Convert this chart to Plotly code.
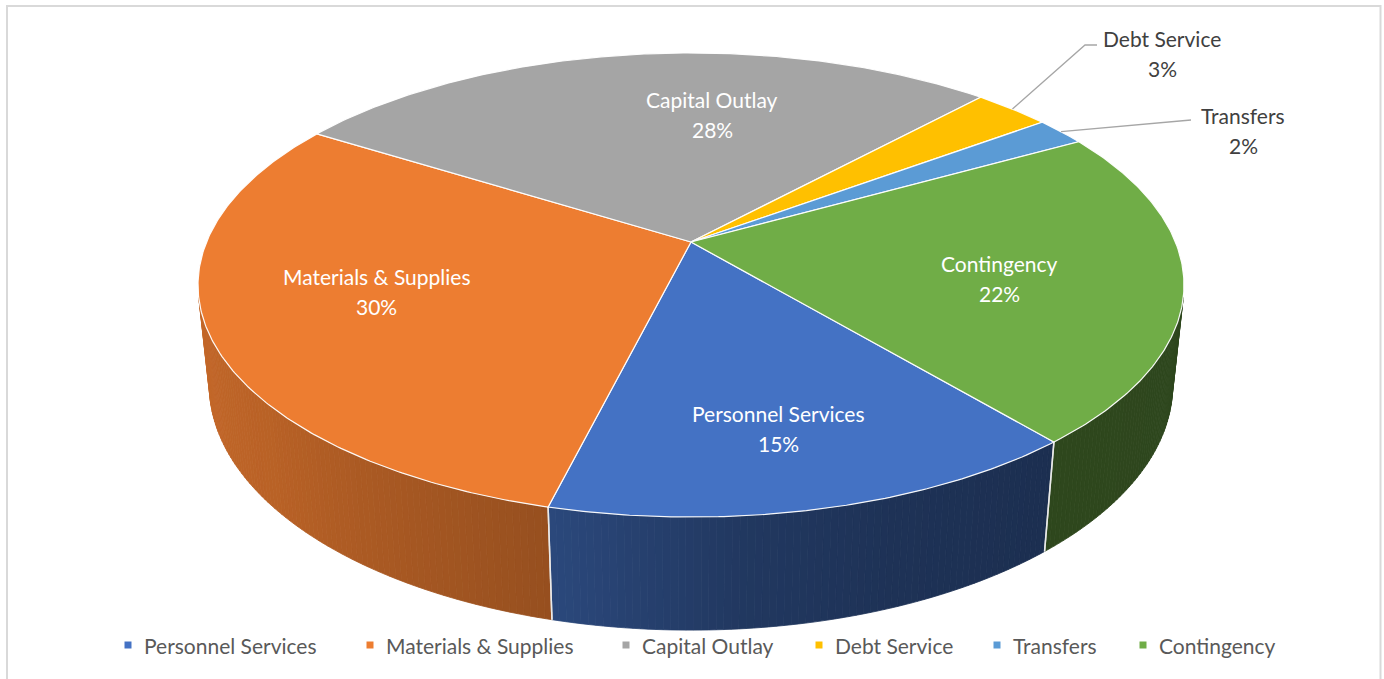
import numpy as np
import plotly.graph_objects as go

# ---- data -------------------------------------------------------------
categories = ["Personnel Services", "Materials & Supplies", "Capital Outlay",
              "Debt Service", "Transfers", "Contingency"]
shares = [15, 30, 28, 3, 2, 22]          # percent of total budget
pct_labels = ["15%", "30%", "28%", "3%", "2%", "22%"]

# ---- style ------------------------------------------------------------
slice_colors = ["#4472C4", "#ED7D31", "#A5A5A5", "#FFC000", "#5B9BD5", "#70AD47"]
FONT = "Lato"
FONT_SIZE = 21
W, H = 1384, 679

# camera for the tilted, perspective pie (unit-radius disc)
CX, CY = 691.0, 242.0
ELEV = np.radians(27.55)
DIST = 4.784
FOCAL = 2317.6
THICK = 0.235
START_DEG = 140.0
S, C = np.sin(ELEV), np.cos(ELEV)

# side-wall brightness as a function of the wall's compass angle
SHADE_ANG = [90, 140, 160, 175, 195, 230, 270]
SHADE_VAL = [0.40, 0.41, 0.44, 0.49, 0.64, 0.78, 0.85]

# inside label nudges (pixels) relative to the slice's mid-angle anchor
LABEL_NUDGE = {0: (11, 34), 1: (-23, -5), 2: (57, -4), 5: (7, 11)}
# outside labels: text centre, leader elbow, leader end
OUTSIDE = {3: dict(text=(1162, 53), elbow=(1085, 45), end=(1097, 45)),
           4: dict(text=(1243, 130), elbow=(1178, 121), end=(1191, 120))}
LEGEND_TEXT_X = [142, 384, 640, 833, 1011, 1157]
LEGEND_Y = 645


def project(phi_deg, r=1.0, y=0.0):
    phi = np.radians(phi_deg)
    X = r * np.sin(phi)
    Z = -r * np.cos(phi)
    d = DIST - y * S - Z * C
    px = CX + FOCAL * X / d
    py = CY - FOCAL * (y * C - Z * S) / d
    return px, py


def shade(hex_color, f):
    h = hex_color.lstrip("#")
    rgb = [int(h[i:i + 2], 16) for i in (0, 2, 4)]
    return "rgb({},{},{})".format(*[int(round(v * f)) for v in rgb])


total = float(sum(shares))
cum = np.concatenate([[0], np.cumsum(shares)]) / total * 360.0
starts = START_DEG + cum[:-1]
ends = START_DEG + cum[1:]

fig = go.Figure()

# ---- side walls (front half only) ----------------------------------------
vis_lo = np.degrees(np.arccos(-1.0 / (DIST * C)))
vis_hi = 360.0 - vis_lo
for i in range(len(shares)):
    a0, a1 = starts[i], ends[i]
    for k in (-360.0, 0.0, 360.0):
        lo = max(a0, vis_lo + k)
        hi = min(a1, vis_hi + k)
        if hi <= lo:
            continue
        n = int(np.ceil((hi - lo) / 0.75))
        edges = np.linspace(lo, hi, n + 1)
        for j in range(n):
            p0, p1 = edges[j], edges[j + 1]
            ps = np.linspace(p0, p1, 3)
            tx, ty = project(ps)
            bx, by = project(ps[::-1], y=-THICK)
            xs = np.concatenate([tx, bx, tx[:1]])
            ys = np.concatenate([ty, by, ty[:1]])
            col = shade(slice_colors[i], np.interp((0.5 * (p0 + p1)) - k, SHADE_ANG, SHADE_VAL))
            fig.add_trace(go.Scatter(x=xs, y=ys, mode="lines", fill="toself",
                                     fillcolor=col, line=dict(color=col, width=0.8),
                                     hoverinfo="skip", showlegend=False))

# slice seams on the wall
for b in np.concatenate([starts, ends]):
    bb = b % 360.0
    if vis_lo < bb < vis_hi:
        tx, ty = project(bb)
        bx, by = project(bb, y=-THICK)
        fig.add_trace(go.Scatter(x=[tx, bx], y=[ty, by], mode="lines",
                                 line=dict(color="rgba(235,235,235,0.9)", width=1.5),
                                 hoverinfo="skip", showlegend=False))

# ---- top faces ----------------------------------------------------------
for i in range(len(shares)):
    ps = np.linspace(starts[i], ends[i], max(8, int((ends[i] - starts[i]) * 2)))
    ax, ay = project(ps)
    xs = np.concatenate([[CX], ax, [CX]])
    ys = np.concatenate([[CY], ay, [CY]])
    fig.add_trace(go.Scatter(x=xs, y=ys, mode="lines", fill="toself",
                             fillcolor=slice_colors[i],
                             line=dict(color="rgba(255,255,255,0.95)", width=1.2),
                             hoverinfo="skip", showlegend=False))

# ---- data labels ----------------------------------------------------------
annotations = []
for i, name in enumerate(categories):
    mid = 0.5 * (starts[i] + ends[i])
    if i in OUTSIDE:
        o = OUTSIDE[i]
        sx, sy = project(mid, r=1.0)
        fig.add_trace(go.Scatter(x=[sx, o["elbow"][0], o["end"][0]],
                                 y=[sy, o["elbow"][1], o["end"][1]],
                                 mode="lines", line=dict(color="#A6A6A6", width=1.3),
                                 hoverinfo="skip", showlegend=False))
        lx, ly = o["text"]
        tcol = "#404040"
    else:
        ax, ay = project(mid, r=0.62)
        dx, dy = LABEL_NUDGE[i]
        lx, ly = ax + dx, ay + dy
        tcol = "#FFFFFF"
    annotations.append(dict(x=lx, y=ly - 15, text=name, showarrow=False,
                            font=dict(family=FONT, size=FONT_SIZE, color=tcol),
                            xanchor="center", yanchor="middle"))
    annotations.append(dict(x=lx, y=ly + 15, text=pct_labels[i], showarrow=False,
                            font=dict(family=FONT, size=FONT_SIZE, color=tcol),
                            xanchor="center", yanchor="middle"))

# ---- legend -------------------------------------------------------------
fig.add_trace(go.Scatter(x=[x - 14 for x in LEGEND_TEXT_X], y=[LEGEND_Y] * len(categories),
                         mode="markers",
                         marker=dict(symbol="square", size=7, color=slice_colors),
                         hoverinfo="skip", showlegend=False))
for x, name in zip(LEGEND_TEXT_X, categories):
    annotations.append(dict(x=x, y=LEGEND_Y, text=name, showarrow=False,
                            font=dict(family=FONT, size=FONT_SIZE, color="#595959"),
                            xanchor="left", yanchor="middle"))

fig.update_layout(
    width=W, height=H,
    margin=dict(l=0, r=0, t=0, b=0),
    paper_bgcolor="white", plot_bgcolor="white",
    showlegend=False,
    xaxis=dict(range=[0, W], visible=False, fixedrange=True),
    yaxis=dict(range=[H, 0], visible=False, fixedrange=True),
    annotations=annotations,
    shapes=[dict(type="rect", xref="x", yref="y", x0=7, y0=6, x1=1380.5, y1=H + 10,
                 line=dict(color="#D9D9D9", width=2), layer="below")],
)

fig.write_html("out.html")
